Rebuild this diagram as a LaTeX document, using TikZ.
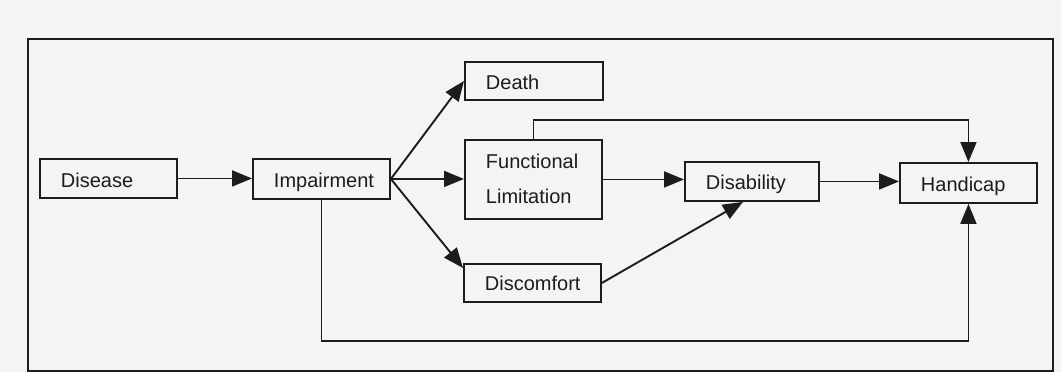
\documentclass[tikz,border=0pt]{standalone}
\usepackage{fontspec}
\setmainfont{Liberation Sans}
\usetikzlibrary{arrows.meta}
\definecolor{ink}{RGB}{28,28,28}
\definecolor{paper}{RGB}{244,244,242}
\begin{document}
\begin{tikzpicture}[x=1pt,y=-1pt,
  stage/.style={draw=ink, line width=1.9pt, anchor=north west, inner xsep=21pt, inner ysep=0pt,
    align=left, text=ink, font=\fontsize{20}{35}\selectfont},
  link/.style={draw=ink, line width=1.9pt, -{Triangle[length=20pt,width=16pt]}},
  plain/.style={draw=ink, line width=1.9pt}]
\fill[paper] (0,0) rectangle (1061,372);
\useasboundingbox (0,0) rectangle (1061,372);
\draw[plain] (28,39) rectangle (1053,371);
\node[stage, text width=95pt, text height=29pt, text depth=10pt] (dis) at (39,158) {Disease};
\node[stage, text width=95pt, text height=29pt, text depth=11pt] (imp) at (252,158) {Impairment};
\node[stage, text width=96pt, text height=28pt, text depth=10pt] (death) at (464,61) {Death};
\node[stage, text width=95pt, text height=29pt, text depth=50pt] (func) at (464,139) {Functional\\Limitation};
\node[stage, text width=95pt, text height=27pt, text depth=11pt] (disc) at (463,263) {Discomfort};
\node[stage, text width=92pt, text height=28pt, text depth=11pt] (disab) at (684,161) {Disability};
\node[stage, text width=95pt, text height=29pt, text depth=11pt] (hand) at (899,162) {Handicap};
\draw[link] (dis.east) -- (dis.east -| imp.west);
\draw[link] (imp.east) -- (death.west);
\draw[link] (imp.east) -- (imp.east -| func.west);
\draw[link] (imp.east) -- ([yshift=-5pt]disc.north west);
\draw[link] (func.east) -- (func.east -| disab.west);
\draw[link] (func.north) -- ++(0,-19) -| (hand.north);
\draw[link] (disc.east) -- ([xshift=-9pt]disab.south);
\draw[link] (disab.east) -- (disab.east -| hand.west);
\draw[link] (imp.south) -- ++(0,141) -| (hand.south);
\end{tikzpicture}
\end{document}
